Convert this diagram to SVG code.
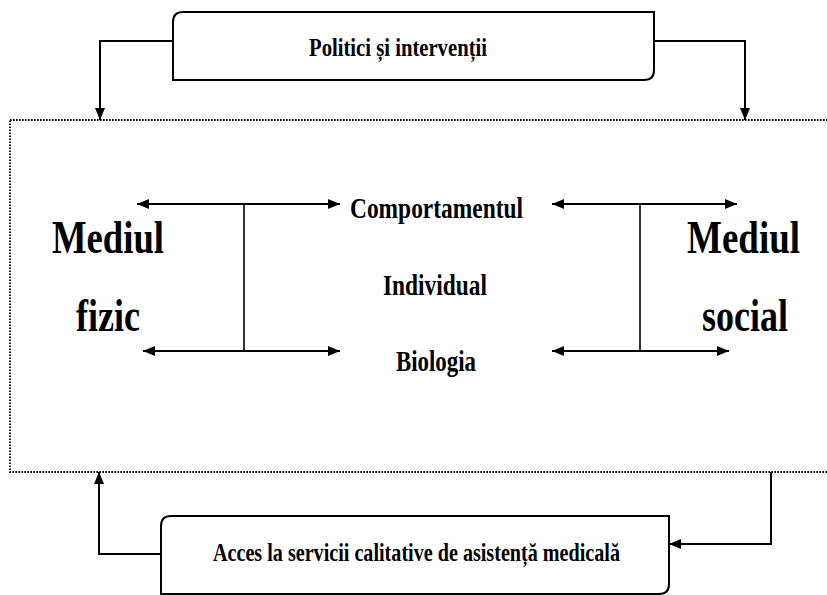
<svg xmlns="http://www.w3.org/2000/svg" width="827" height="595" viewBox="0 0 827 595">
<style>
.bx{fill:#fff;stroke:#000;stroke-width:2}
.cn{fill:none;stroke:#000;stroke-width:2}
.dot{fill:none;stroke:#000;stroke-width:1.8;stroke-dasharray:1.6 1.4}
text{font-family:"Liberation Serif","Times New Roman",serif;font-weight:bold;fill:#000}
.m{font-size:30px}
.b{font-size:46px}
.s{font-size:26px}
</style>
<defs>
<marker id="ah" markerUnits="userSpaceOnUse" markerWidth="13" markerHeight="11" refX="12" refY="5" orient="auto-start-reverse" viewBox="0 0 13 11">
<path d="M0,0 L12,5 L0,10 z" fill="#000"/>
</marker>
</defs>
<rect width="827" height="595" fill="#fff"/>
<g id="frame"><rect class="dot" x="10" y="120" width="840" height="352"/></g>
<g id="politici">
<path class="bx" d="M183,12 H654 V70 Q654,80 644,80 H173 V22 Q173,12 183,12 Z"/>
<text class="s" x="309" y="56" textLength="178" lengthAdjust="spacingAndGlyphs">Politici și intervenții</text>
</g>
<g id="acces">
<path class="bx" d="M171,516 H669 V584 Q669,594 659,594 H161 V526 Q161,516 171,516 Z"/>
<text class="s" x="213" y="561" textLength="407" lengthAdjust="spacingAndGlyphs">Acces la servicii calitative de asistență medicală</text>
</g>
<g id="mediul-fizic">
<text class="b" x="52" y="253" textLength="112" lengthAdjust="spacingAndGlyphs">Mediul</text>
<text class="b" x="76" y="331" textLength="64" lengthAdjust="spacingAndGlyphs">fizic</text>
</g>
<g id="mediul-social">
<text class="b" x="687" y="253" textLength="113" lengthAdjust="spacingAndGlyphs">Mediul</text>
<text class="b" x="702" y="331" textLength="86" lengthAdjust="spacingAndGlyphs">social</text>
</g>
<g id="individual">
<text class="m" x="350" y="218" textLength="173" lengthAdjust="spacingAndGlyphs">Comportamentul</text>
<text class="m" x="383" y="295" textLength="104" lengthAdjust="spacingAndGlyphs">Individual</text>
<text class="m" x="396" y="371" textLength="80" lengthAdjust="spacingAndGlyphs">Biologia</text>
</g>
<g id="connectors">
<path class="cn" d="M173,41 H100 V120" marker-end="url(#ah)"/>
<path class="cn" d="M654,41 H745 V120" marker-end="url(#ah)"/>
<path class="cn" d="M161,554 H99 V472" marker-end="url(#ah)"/>
<path class="cn" d="M771,472 V544 H669" marker-end="url(#ah)"/>
<path class="cn" d="M137,204 H340" marker-start="url(#ah)" marker-end="url(#ah)"/>
<path class="cn" d="M143,351 H340" marker-start="url(#ah)" marker-end="url(#ah)"/>
<path class="cn" d="M244,204 V351" style="stroke-width:1.6"/>
<path class="cn" d="M552,204 H737" marker-start="url(#ah)" marker-end="url(#ah)"/>
<path class="cn" d="M552,351 H729" marker-start="url(#ah)" marker-end="url(#ah)"/>
<path class="cn" d="M640,204 V351" style="stroke-width:1.6"/>
</g>
</svg>
